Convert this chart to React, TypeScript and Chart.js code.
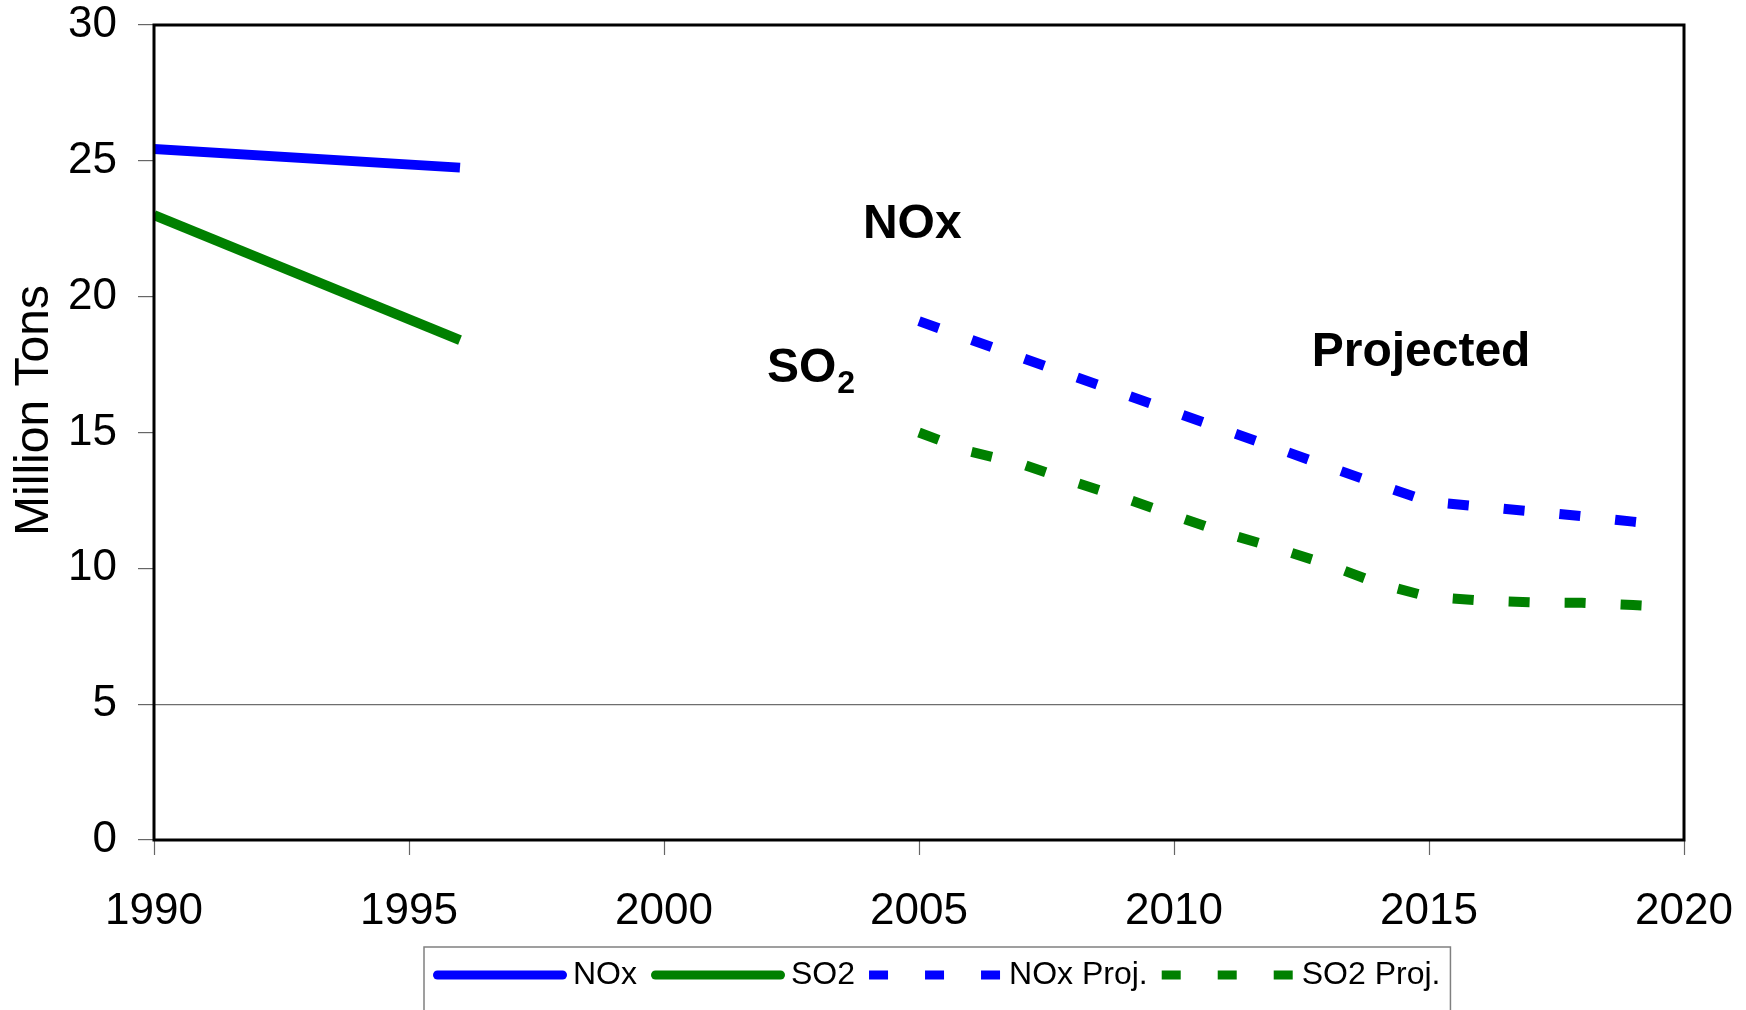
import React, { useEffect, useRef } from 'react';
import { Chart, registerables } from 'chart.js';

Chart.register(...registerables);

// ---------- data ----------
const histYears = [1990, 1996];
const noxHist = [25.44, 24.75];
const so2Hist = [23.0, 18.4];

const projYears = [2005, 2006, 2007, 2008, 2009, 2010, 2011, 2012, 2013, 2014, 2015, 2016, 2017, 2018, 2019, 2019.3];
const noxProj = [19.1, 18.43, 17.76, 17.09, 16.43, 15.76, 15.09, 14.43, 13.76, 13.1, 12.45, 12.27, 12.1, 11.92, 11.72, 11.66];
const so2Proj = [15.0, 14.3, 13.85, 13.2, 12.6, 11.95, 11.3, 10.75, 10.15, 9.45, 8.95, 8.82, 8.75, 8.73, 8.65, 8.62];

const seriesLabels = ['NOx', 'SO2', 'NOx Proj.', 'SO2 Proj.'];
const seriesColors = ['#0000FF', '#008000', '#0000FF', '#008000'];

const xTickValues = [1990, 1995, 2000, 2005, 2010, 2015, 2020];
const yTickValues = [0, 5, 10, 15, 20, 25, 30];
const yTitle = 'Million Tons';

// annotation labels: main text, subscript, anchored at (year, value) of text baseline-left
const annoTexts = ['NOx', 'SO', 'Projected'];
const annoSubs = ['', '2', ''];
const annoYears = [2003.9, 2002.02, 2012.7];
const annoValues = [22.16, 16.86, 17.46];

const FONT = '"Liberation Sans", Arial, Helvetica, sans-serif';

function pts(xs: number[], ys: number[]) {
  return xs.map((x, i) => ({ x, y: ys[i] }));
}

const decorPlugin = {
  id: 'decor',
  afterDraw(chart: any) {
    const { ctx, chartArea: ca, scales } = chart;
    const xs = scales.x;
    const ys = scales.y;
    ctx.save();

    // plot border
    ctx.strokeStyle = '#000';
    ctx.lineWidth = 3;
    ctx.setLineDash([]);
    ctx.strokeRect(ca.left, ca.top, ca.right - ca.left, ca.bottom - ca.top);

    // annotations
    ctx.fillStyle = '#000';
    ctx.textAlign = 'left';
    ctx.textBaseline = 'alphabetic';
    annoTexts.forEach((t, i) => {
      const px = xs.getPixelForValue(annoYears[i]);
      const py = ys.getPixelForValue(annoValues[i]);
      ctx.font = `bold 48px ${FONT}`;
      ctx.fillText(t, px, py);
      if (annoSubs[i]) {
        const w = ctx.measureText(t).width;
        ctx.font = `bold 32px ${FONT}`;
        ctx.fillText(annoSubs[i], px + w + 1, py + 11);
      }
    });

    // y title
    ctx.save();
    ctx.translate(35, (ca.top + ca.bottom) / 2 - 22);
    ctx.rotate(-Math.PI / 2);
    ctx.font = `48px ${FONT}`;
    ctx.textAlign = 'center';
    ctx.textBaseline = 'middle';
    ctx.fillText(yTitle, 0, 0);
    ctx.restore();

    // legend
    const boxLeft = ca.left + 270;
    const boxTop = ca.bottom + 107;
    const lineY = ca.bottom + 135;
    const sampleLen = 134;
    ctx.font = `32px ${FONT}`;
    let x = boxLeft + 9;
    chart.data.datasets.forEach((ds: any) => {
      ctx.save();
      ctx.strokeStyle = ds.borderColor;
      ctx.lineWidth = 9;
      if (ds.borderDash && ds.borderDash.length) {
        ctx.lineCap = 'butt';
        ctx.setLineDash([19, 37]);
        ctx.beginPath();
        ctx.moveTo(x, lineY);
        ctx.lineTo(x + sampleLen, lineY);
        ctx.stroke();
      } else {
        ctx.lineCap = 'round';
        ctx.setLineDash([]);
        ctx.beginPath();
        ctx.moveTo(x + 4.5, lineY);
        ctx.lineTo(x + sampleLen - 4.5, lineY);
        ctx.stroke();
      }
      ctx.restore();
      ctx.fillStyle = '#000';
      ctx.textAlign = 'left';
      ctx.textBaseline = 'middle';
      const tx = x + sampleLen + 6;
      ctx.fillText(ds.label, tx, lineY);
      x = tx + ctx.measureText(ds.label).width + 14;
    });
    const boxRight = x - 4;
    ctx.strokeStyle = '#808080';
    ctx.lineWidth = 1.5;
    ctx.setLineDash([]);
    ctx.strokeRect(boxLeft, boxTop, boxRight - boxLeft, chart.height - boxTop + 10);

    ctx.restore();
  },
};

function zeroPadding(scale: any) {
  scale.paddingTop = 0;
  scale.paddingBottom = 0;
  scale.paddingLeft = 0;
  scale.paddingRight = 0;
}

export default function App() {
  const ref = useRef<HTMLCanvasElement | null>(null);

  useEffect(() => {
    if (!ref.current) return;
    const chart = new Chart(ref.current, {
      type: 'line',
      data: {
        datasets: [
          {
            label: seriesLabels[0],
            data: pts(histYears, noxHist),
            borderColor: seriesColors[0],
            backgroundColor: seriesColors[0],
            borderWidth: 10,
            borderCapStyle: 'butt',
          },
          {
            label: seriesLabels[1],
            data: pts(histYears, so2Hist),
            borderColor: seriesColors[1],
            backgroundColor: seriesColors[1],
            borderWidth: 10,
            borderCapStyle: 'butt',
          },
          {
            label: seriesLabels[2],
            data: pts(projYears, noxProj),
            borderColor: seriesColors[2],
            backgroundColor: seriesColors[2],
            borderWidth: 10,
            borderDash: [21, 35],
            borderCapStyle: 'butt',
          },
          {
            label: seriesLabels[3],
            data: pts(projYears, so2Proj),
            borderColor: seriesColors[3],
            backgroundColor: seriesColors[3],
            borderWidth: 10,
            borderDash: [21, 35],
            borderCapStyle: 'butt',
          },
        ],
      },
      options: {
        animation: false,
        responsive: false,
        devicePixelRatio: 1,
        elements: {
          point: { radius: 0, hoverRadius: 0 },
          line: { tension: 0, borderJoinStyle: 'miter' },
        },
        layout: { padding: { top: 25, right: 62, left: 0, bottom: 0 } },
        plugins: {
          legend: { display: false },
          tooltip: { enabled: false },
          title: { display: false },
        },
        scales: {
          x: {
            type: 'linear',
            min: xTickValues[0],
            max: xTickValues[xTickValues.length - 1],
            afterBuildTicks: (scale: any) => {
              scale.ticks = xTickValues.map((v) => ({ value: v }));
            },
            afterFit: (scale: any) => {
              scale.height = 170;
              zeroPadding(scale);
            },
            ticks: {
              callback: (v: any) => String(v),
              color: '#000',
              font: { family: FONT, size: 44, lineHeight: 1 },
              padding: 35,
              maxRotation: 0,
              autoSkip: false,
            },
            grid: {
              drawOnChartArea: false,
              tickLength: 15,
              tickColor: '#666',
              tickWidth: 1.2,
            },
            border: { display: false },
          },
          y: {
            type: 'linear',
            min: yTickValues[0],
            max: yTickValues[yTickValues.length - 1],
            afterBuildTicks: (scale: any) => {
              scale.ticks = yTickValues.map((v) => ({ value: v }));
            },
            afterFit: (scale: any) => {
              scale.width = 154;
              zeroPadding(scale);
            },
            ticks: {
              callback: (v: any) => String(v),
              color: '#000',
              font: { family: FONT, size: 44, lineHeight: 1 },
              padding: 21,
              autoSkip: false,
            },
            grid: {
              color: (c: any) => (c.tick && c.tick.value === 5 ? '#6e6e6e' : 'rgba(0,0,0,0)'),
              lineWidth: 1.2,
              tickLength: 16,
              tickColor: '#666',
              tickWidth: 1.2,
            },
            border: { display: false },
          },
        },
      } as any,
      plugins: [decorPlugin],
    } as any);
    return () => chart.destroy();
  }, []);

  return (
    <div style={{ position: 'fixed', left: 0, top: 0, width: 1746, height: 1010, background: '#fff' }}>
      <canvas ref={ref} width={1746} height={1010} style={{ display: 'block', width: 1746, height: 1010 }} />
    </div>
  );
}
